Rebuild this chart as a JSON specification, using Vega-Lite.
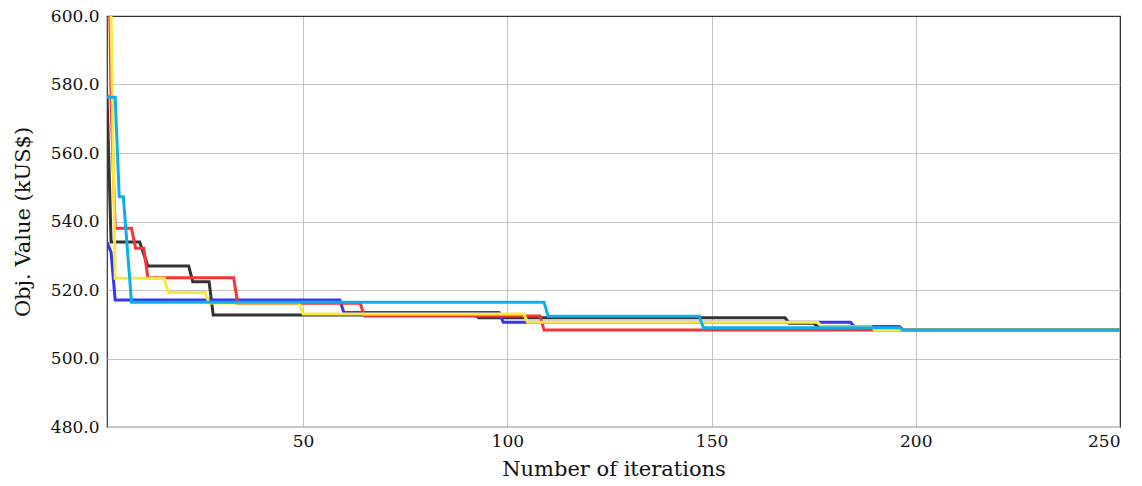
{
  "$schema": "https://vega.github.io/schema/vega-lite/v6.json",
  "autosize": "none",
  "width": 1013,
  "height": 411,
  "padding": {"left": 107, "top": 16, "right": 22, "bottom": 59},
  "background": "white",
  "config": {
    "view": {"stroke": "#333333", "strokeWidth": 1.2},
    "font": "DejaVu Serif",
    "axis": {
      "domain": false,
      "ticks": false,
      "grid": true,
      "gridWidth": 1,
      "labelFont": "DejaVu Serif",
      "labelFontSize": 17,
      "labelColor": "#111111",
      "titleFont": "DejaVu Serif",
      "titleFontSize": 21,
      "titleFontWeight": "normal",
      "titleColor": "#111111"
    }
  },
  "data": {
    "values": [
      {"run": "k", "x": 2, "y": 577}, {"run": "k", "x": 3, "y": 534}, {"run": "k", "x": 10, "y": 534}, {"run": "k", "x": 12, "y": 527}, {"run": "k", "x": 22, "y": 527}, {"run": "k", "x": 23, "y": 522.4}, {"run": "k", "x": 27, "y": 522.4}, {"run": "k", "x": 28, "y": 512.7}, {"run": "k", "x": 92, "y": 512.7}, {"run": "k", "x": 93, "y": 511.9}, {"run": "k", "x": 168, "y": 511.9}, {"run": "k", "x": 169, "y": 510.3}, {"run": "k", "x": 175, "y": 510.3}, {"run": "k", "x": 176, "y": 509.3}, {"run": "k", "x": 196, "y": 509.3}, {"run": "k", "x": 197, "y": 508.3}, {"run": "k", "x": 250, "y": 508.3},
      {"run": "b", "x": 2, "y": 534}, {"run": "b", "x": 3, "y": 531}, {"run": "b", "x": 4, "y": 517.1}, {"run": "b", "x": 59, "y": 517.1}, {"run": "b", "x": 60, "y": 513.4}, {"run": "b", "x": 98, "y": 513.4}, {"run": "b", "x": 99, "y": 510.6}, {"run": "b", "x": 184, "y": 510.6}, {"run": "b", "x": 185, "y": 509.3}, {"run": "b", "x": 195, "y": 509.3}, {"run": "b", "x": 196, "y": 508.3}, {"run": "b", "x": 250, "y": 508.3},
      {"run": "r", "x": 2, "y": 660}, {"run": "r", "x": 3, "y": 575}, {"run": "r", "x": 4, "y": 538}, {"run": "r", "x": 8, "y": 538}, {"run": "r", "x": 9, "y": 532.2}, {"run": "r", "x": 11, "y": 532.2}, {"run": "r", "x": 12, "y": 523.6}, {"run": "r", "x": 33, "y": 523.6}, {"run": "r", "x": 34, "y": 516.1}, {"run": "r", "x": 64, "y": 516.1}, {"run": "r", "x": 65, "y": 512.4}, {"run": "r", "x": 108, "y": 512.4}, {"run": "r", "x": 109, "y": 508.3}, {"run": "r", "x": 250, "y": 508.3},
      {"run": "y", "x": 2, "y": 640}, {"run": "y", "x": 3, "y": 600}, {"run": "y", "x": 4, "y": 523.4}, {"run": "y", "x": 16, "y": 523.4}, {"run": "y", "x": 17, "y": 519.3}, {"run": "y", "x": 26, "y": 519.3}, {"run": "y", "x": 27, "y": 516.2}, {"run": "y", "x": 49, "y": 516.2}, {"run": "y", "x": 50, "y": 513.0}, {"run": "y", "x": 104, "y": 513.0}, {"run": "y", "x": 105, "y": 510.6}, {"run": "y", "x": 176, "y": 510.6}, {"run": "y", "x": 177, "y": 509.3}, {"run": "y", "x": 189, "y": 509.3}, {"run": "y", "x": 190, "y": 508.3}, {"run": "y", "x": 250, "y": 508.3},
      {"run": "c", "x": 2, "y": 576.3}, {"run": "c", "x": 4, "y": 576.3}, {"run": "c", "x": 5, "y": 547.2}, {"run": "c", "x": 6, "y": 547.2}, {"run": "c", "x": 8, "y": 516.4}, {"run": "c", "x": 109, "y": 516.4}, {"run": "c", "x": 110, "y": 512.3}, {"run": "c", "x": 147, "y": 512.3}, {"run": "c", "x": 148, "y": 509.0}, {"run": "c", "x": 196, "y": 509.0}, {"run": "c", "x": 197, "y": 508.3}, {"run": "c", "x": 250, "y": 508.3}
    ]
  },
  "encoding": {
    "x": {
      "field": "x", "type": "quantitative",
      "scale": {"domain": [2, 250], "nice": false, "zero": false},
      "axis": {
        "values": [50, 100, 150, 200, 250],
        "title": "Number of iterations",
        "labelPadding": 6, "titlePadding": 9,
        "gridColor": {"condition": {"test": "datum.value === 250", "value": "#333333"}, "value": "#c4c4c4"}
      }
    },
    "y": {
      "field": "y", "type": "quantitative",
      "scale": {"domain": [480, 600], "nice": false, "zero": false},
      "axis": {
        "values": [480, 500, 520, 540, 560, 580, 600],
        "format": ".1f",
        "title": "Obj. Value (kUS$)",
        "labelPadding": 8, "titlePadding": 17,
        "gridColor": {"condition": {"test": "datum.value === 600", "value": "#333333"}, "value": "#c4c4c4"}
      }
    }
  },
  "layer": [
    {"transform": [{"filter": "datum.run === 'k'"}], "mark": {"type": "line", "clip": true, "strokeWidth": 3, "color": "#333333"}},
    {"transform": [{"filter": "datum.run === 'b'"}], "mark": {"type": "line", "clip": true, "strokeWidth": 3, "color": "#3535f2"}},
    {"transform": [{"filter": "datum.run === 'r'"}], "mark": {"type": "line", "clip": true, "strokeWidth": 3, "color": "#f53535"}},
    {"transform": [{"filter": "datum.run === 'y'"}], "mark": {"type": "line", "clip": true, "strokeWidth": 3, "color": "#fbe83c"}},
    {"transform": [{"filter": "datum.run === 'c'"}], "mark": {"type": "line", "clip": true, "strokeWidth": 3, "color": "#0cafe9"}}
  ]
}
